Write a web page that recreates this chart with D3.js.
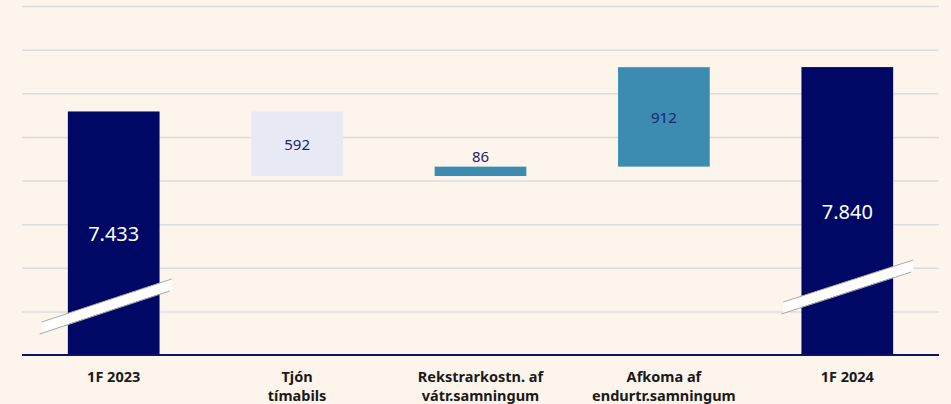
<!DOCTYPE html>
<html>
<head>
    <meta charset="utf-8">
    <script src="https://d3js.org/d3.v7.min.js"></script>
    <style>
        body { margin: 0; background: #fdf4eb; }
        svg { display: block; font-family: "Noto Sans", sans-serif; }
        .grid line { stroke: #dcdcdc; stroke-width: 1.5px; }
        .grid path { display: none; }
        .cat { font-size: 14.5px; font-weight: bold; fill: #1a1a1a; text-anchor: middle; }
        .val { text-anchor: middle; dominant-baseline: central; }
    </style>
</head>
<body>
    <svg width="951" height="404"></svg>
    <script>
        // chart data
        var categories = ["1F 2023", "Tjón tímabils", "Rekstrarkostn. af vátr.samningum", "Afkoma af endurtr.samningum", "1F 2024"];
        var labelLines = [["1F 2023"], ["Tjón", "tímabils"], ["Rekstrarkostn. af", "vátr.samningum"], ["Afkoma af", "endurtr.samningum"], ["1F 2024"]];
        var values = [7433, -592, 86, 912, 7840];
        var kinds = ["total", "delta", "delta", "delta", "total"];
        var valueLabels = ["7.433", "592", "86", "912", "7.840"];
        var gridTicks = [5200, 5600, 6000, 6400, 6800, 7200, 7600, 8000, 8400];

        var svg = d3.select("svg"),
            margin = {left: 22, right: 12, top: 6, bottom: 49},
            width = +svg.attr("width") - margin.left - margin.right,
            height = +svg.attr("height") - margin.top - margin.bottom,
            g = svg.append("g").attr("transform", "translate(" + margin.left + "," + margin.top + ")");

        svg.insert("rect", ":first-child")
            .attr("width", 951).attr("height", 404).attr("fill", "#fdf4eb");

        var x = d3.scaleBand().domain(categories).range([0, width]).paddingInner(0.5).paddingOuter(0.25);
        var y = d3.scaleLinear().domain([5200, 8400]).range([height, 0]);

        // running totals for the waterfall
        var running = 0;
        var bars = values.map(function(v, i) {
            var start, end;
            if (kinds[i] === "total") { start = y.domain()[0]; end = v; running = v; }
            else { start = running; end = running + v; running = end; }
            return {cat: categories[i], v: v, kind: kinds[i], lo: Math.min(start, end), hi: Math.max(start, end), label: valueLabels[i], lines: labelLines[i]};
        });

        g.append("g")
            .attr("class", "grid")
            .call(d3.axisLeft(y).tickValues(gridTicks.slice(1)).tickSize(-width).tickFormat(""));

        function fillOf(d) {
            if (d.kind === "total") return "#000866";
            return d.v < 0 ? "#e7eaf4" : "#3c8cb1";
        }

        g.selectAll(".bar")
            .data(bars)
            .enter().append("rect")
            .attr("class", "bar")
            .attr("x", function(d) { return x(d.cat); })
            .attr("width", x.bandwidth())
            .attr("y", function(d) { return y(d.hi); })
            .attr("height", function(d) { return y(d.lo) - y(d.hi); })
            .attr("fill", fillOf);

        // axis break marks on the total bars
        var breaks = [{i: 0, dx0: -72, dx1: 58, up0: 33, up1: 76}, {i: 4, dx0: -64, dx1: 66, up0: 53, up1: 95}];
        breaks.forEach(function(b) {
            var cx = x(categories[b.i]) + x.bandwidth() / 2,
                x0 = cx + b.dx0, x1 = cx + b.dx1,
                y0 = height - b.up0, y1 = height - b.up1, t = 11;
            g.append("path")
                .attr("d", "M" + x0 + "," + y0 + "L" + x1 + "," + y1 + "L" + x1 + "," + (y1 + t) + "L" + x0 + "," + (y0 + t) + "Z")
                .attr("fill", "#fff");
            g.append("line").attr("x1", x0).attr("y1", y0).attr("x2", x1).attr("y2", y1)
                .attr("stroke", "#a9a9a9").attr("stroke-width", 1);
            g.append("line").attr("x1", x0 - 2).attr("y1", y0 + t + 1).attr("x2", x1 - 2).attr("y2", y1 + t + 1)
                .attr("stroke", "#a9a9a9").attr("stroke-width", 1);
        });

        // baseline
        g.append("line")
            .attr("x1", 0).attr("x2", width)
            .attr("y1", height).attr("y2", height)
            .attr("stroke", "#0a1466").attr("stroke-width", 2);

        // value labels
        g.selectAll(".val")
            .data(bars)
            .enter().append("text")
            .attr("class", "val")
            .attr("x", function(d) { return x(d.cat) + x.bandwidth() / 2; })
            .attr("y", function(d) {
                var h = y(d.lo) - y(d.hi);
                if (h < 20) return y(d.hi) - 11;
                return (y(d.lo) + y(d.hi)) / 2;
            })
            .style("font-size", function(d) { return d.kind === "total" ? "20px" : "15px"; })
            .style("fill", function(d) { return d.kind === "total" ? "#fff" : "#1c2471"; })
            .text(function(d) { return d.label; });

        // category labels
        var cats = g.selectAll(".cat")
            .data(bars)
            .enter().append("text")
            .attr("class", "cat")
            .attr("x", function(d) { return x(d.cat) + x.bandwidth() / 2; })
            .attr("y", height + 27);

        cats.selectAll("tspan")
            .data(function(d) { return d.lines; })
            .enter().append("tspan")
            .attr("x", function() { return d3.select(this.parentNode).attr("x"); })
            .attr("dy", function(d, i) { return i === 0 ? 0 : 19; })
            .text(function(d) { return d; });
    </script>
</body>
</html>
